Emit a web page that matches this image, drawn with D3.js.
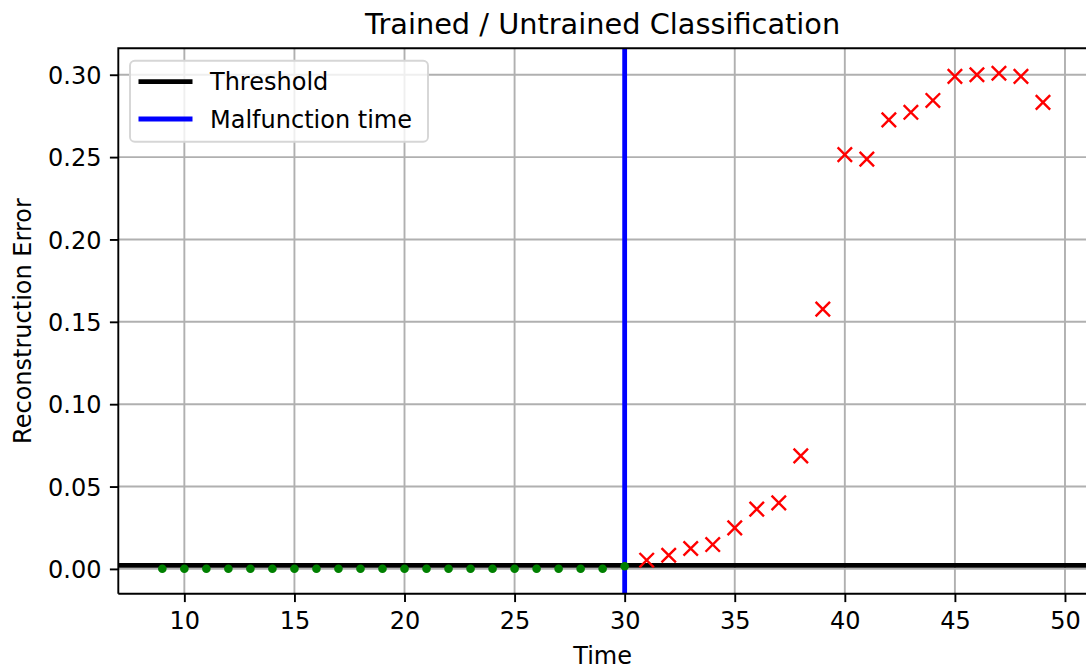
<!DOCTYPE html>
<html>
<head>
<meta charset="utf-8">
<script src="https://cdn.jsdelivr.net/npm/d3@7"></script>
<style>
  body { margin: 0; background: #fff; }
  svg { display: block; }
  text { font-family: "DejaVu Sans", sans-serif; fill: #000; }
</style>
</head>
<body>
<svg id="chart" width="1086" height="669"></svg>
<script>
// data
const trainedTimes = [9, 10, 11, 12, 13, 14, 15, 16, 17, 18, 19, 20, 21, 22, 23, 24, 25, 26, 27, 28, 29, 30];
const trainedErrors = [0.0001, 0.0001, 0.0001, 0.0001, 0.0001, 0.0001, 0.0001, 0.0001, 0.0001, 0.0001, 0.0001,
                       0.0001, 0.0001, 0.0001, 0.0001, 0.0001, 0.0001, 0.0001, 0.0001, 0.0001, 0.0001, 0.0016];
const untrainedTimes = [31, 32, 33, 34, 35, 36, 37, 38, 39, 40, 41, 42, 43, 44, 45, 46, 47, 48, 49];
const untrainedErrors = [0.0053, 0.0083, 0.0124, 0.0148, 0.0249, 0.0363, 0.0401, 0.0686, 0.1577, 0.2515,
                         0.2488, 0.2726, 0.2772, 0.2844, 0.2990, 0.3000, 0.3009, 0.2990, 0.2832];
const threshold = 0.0022;
const malfunctionTime = 30;
const xTicks = [10, 15, 20, 25, 30, 35, 40, 45, 50];
const yTicks = [0, 0.05, 0.10, 0.15, 0.20, 0.25, 0.30];
const legendItems = [
  { label: "Threshold", color: "#000000" },
  { label: "Malfunction time", color: "#0000ff" }
];

const svg = d3.select("#chart");
const pLeft = 118.3, pTop = 48.3, pBottom = 593.7, pRight = 1087;

const x = d3.scaleLinear().domain([7, 51]).range([pLeft, pRight]);
const y = d3.scaleLinear().domain([-0.01505, 0.31605]).range([pBottom, pTop]);

svg.append("clipPath").attr("id", "plot-clip")
  .append("rect").attr("x", pLeft).attr("y", pTop).attr("width", pRight - pLeft).attr("height", pBottom - pTop);

// grid
const grid = svg.append("g").attr("stroke", "#b0b0b0").attr("stroke-width", 1.9);
grid.selectAll(".gx").data(xTicks).join("line").attr("class", "gx")
  .attr("x1", d => x(d)).attr("x2", d => x(d)).attr("y1", pTop).attr("y2", pBottom);
grid.selectAll(".gy").data(yTicks).join("line").attr("class", "gy")
  .attr("x1", pLeft).attr("x2", pRight).attr("y1", d => y(d)).attr("y2", d => y(d));

const plot = svg.append("g").attr("clip-path", "url(#plot-clip)");

// threshold + malfunction lines
plot.append("line")
  .attr("x1", pLeft).attr("x2", pRight)
  .attr("y1", y(threshold)).attr("y2", y(threshold))
  .attr("stroke", "#000").attr("stroke-width", 4.8);
plot.append("line")
  .attr("x1", x(malfunctionTime)).attr("x2", x(malfunctionTime))
  .attr("y1", pTop).attr("y2", pBottom)
  .attr("stroke", "#0000ff").attr("stroke-width", 4.8);

// trained points (green dots)
plot.selectAll(".dot").data(trainedTimes).join("circle").attr("class", "dot")
  .attr("cx", d => x(d))
  .attr("cy", (d, i) => y(trainedErrors[i]))
  .attr("r", 4.3)
  .attr("fill", "#008000");

// untrained points (red x)
const s = 7.2;
plot.selectAll(".cross").data(untrainedTimes).join("path").attr("class", "cross")
  .attr("d", (d, i) => {
    const cx = x(d), cy = y(untrainedErrors[i]);
    return `M${cx - s},${cy - s}L${cx + s},${cy + s}M${cx - s},${cy + s}L${cx + s},${cy - s}`;
  })
  .attr("stroke", "#ff0000").attr("stroke-width", 2.4).attr("fill", "none");

// axes
const xAxis = svg.append("g").attr("transform", `translate(0,${pBottom})`)
  .call(d3.axisBottom(x).tickValues(xTicks).tickFormat(d3.format("d")).tickSize(8.4).tickPadding(8.4));
const yAxis = svg.append("g").attr("transform", `translate(${pLeft},0)`)
  .call(d3.axisLeft(y).tickValues(yTicks).tickFormat(d3.format(".2f")).tickSize(8.4).tickPadding(8.4));
[xAxis, yAxis].forEach(a => {
  a.select(".domain").remove();
  a.selectAll(".tick line").attr("stroke", "#000").attr("stroke-width", 1.9);
  a.selectAll(".tick text").attr("font-size", 24).attr("font-family", "DejaVu Sans");
});
yAxis.selectAll(".tick text").attr("dy", "0.36em");
xAxis.selectAll(".tick text").attr("dy", "0.76em");

// spines (right one sits off the canvas)
svg.append("path")
  .attr("d", `M${pLeft},${pBottom}L${pLeft},${pTop}L${pRight},${pTop}M${pLeft},${pBottom}L${pRight},${pBottom}`)
  .attr("stroke", "#000").attr("stroke-width", 1.9).attr("fill", "none");

// labels
svg.append("text").attr("x", (pLeft + pRight) / 2).attr("y", 33.5)
  .attr("text-anchor", "middle").attr("font-size", 28.8)
  .text("Trained / Untrained Classification");
svg.append("text").attr("x", (pLeft + pRight) / 2).attr("y", 663.5)
  .attr("text-anchor", "middle").attr("font-size", 24).text("Time");
svg.append("text")
  .attr("transform", `translate(30.5,${(pTop + pBottom) / 2}) rotate(-90)`)
  .attr("text-anchor", "middle").attr("font-size", 24).text("Reconstruction Error");

// legend
const lg = svg.append("g");
lg.append("rect")
  .attr("x", 130).attr("y", 60.7).attr("width", 298).attr("height", 81)
  .attr("rx", 4.8).attr("ry", 4.8)
  .attr("fill", "#fff").attr("fill-opacity", 0.8)
  .attr("stroke", "#d6d6d6").attr("stroke-width", 1.9);
const rows = lg.selectAll(".row").data(legendItems).join("g").attr("class", "row")
  .attr("transform", (d, i) => `translate(0,${81.7 + i * 37.3})`);
rows.append("line")
  .attr("x1", 138.5).attr("x2", 192.5)
  .attr("stroke", d => d.color).attr("stroke-width", 4.8);
rows.append("text").attr("x", 210).attr("dy", "0.36em")
  .attr("font-size", 24).text(d => d.label);
</script>
</body>
</html>
